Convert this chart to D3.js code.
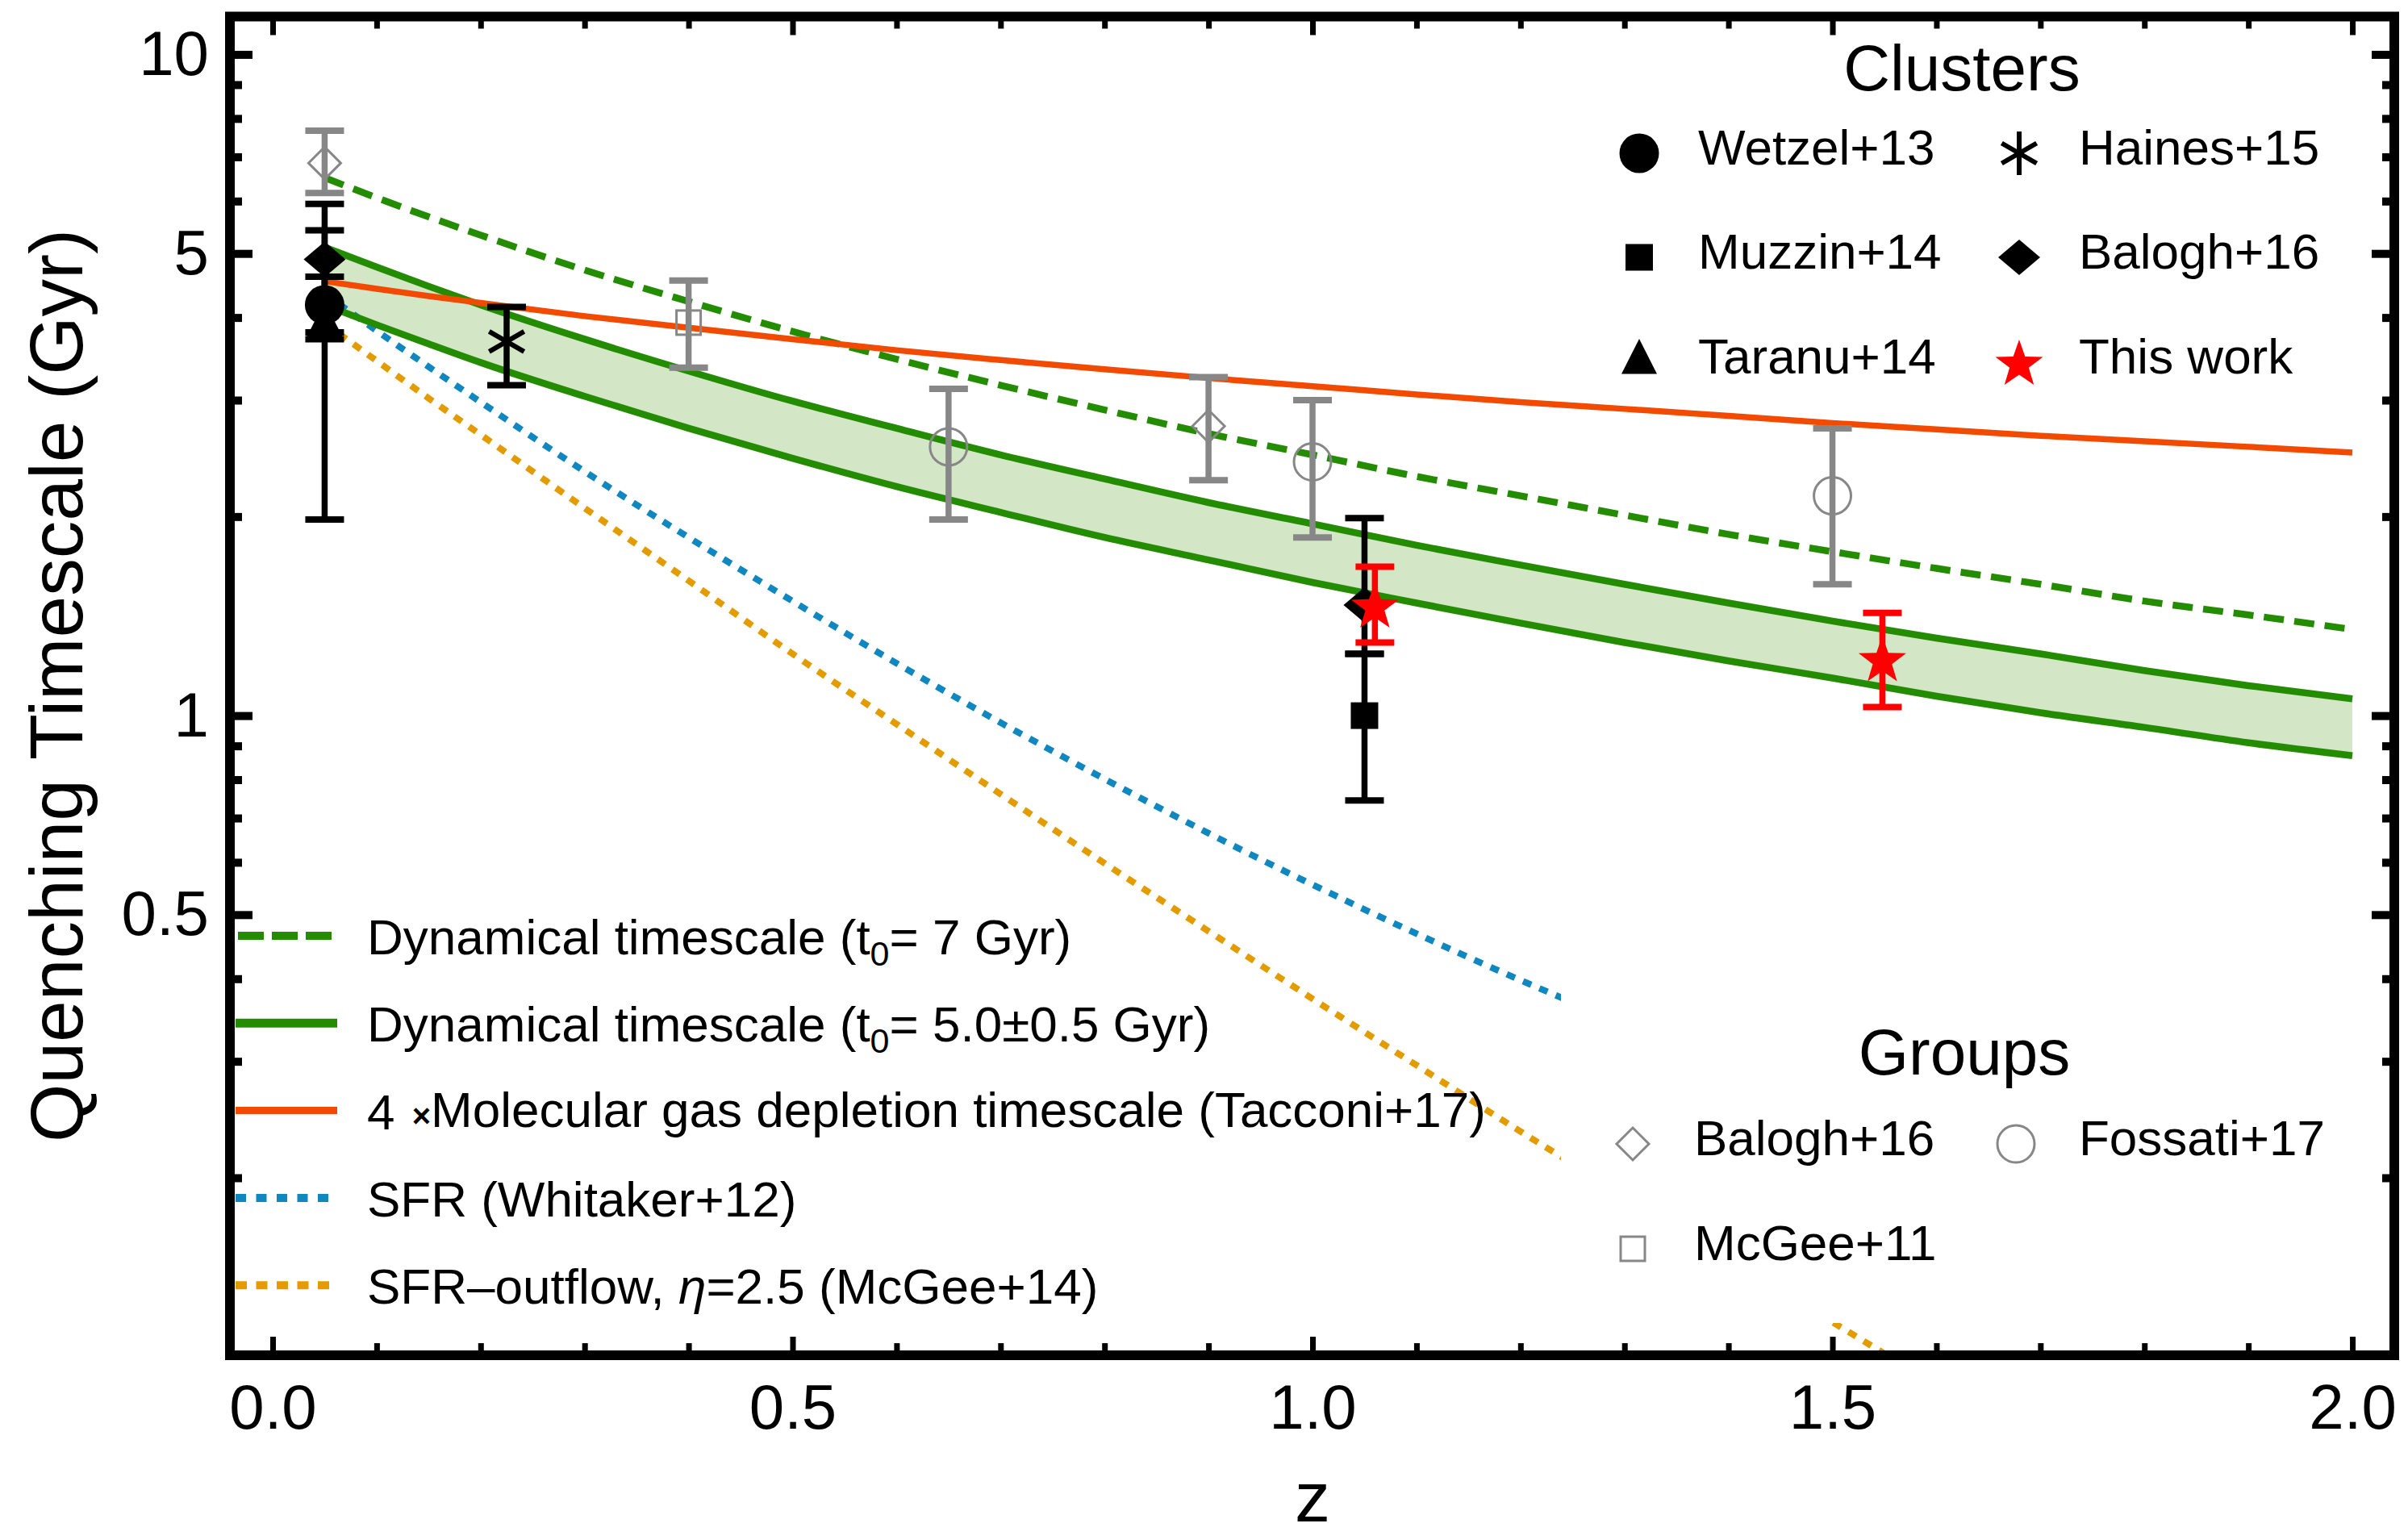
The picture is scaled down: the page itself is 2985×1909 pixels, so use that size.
<!DOCTYPE html>
<html>
<head>
<meta charset="utf-8">
<script src="https://cdn.jsdelivr.net/npm/d3@7"></script>
<style>
  html, body { margin: 0; padding: 0; background: #fff; }
  svg { display: block; font-family: "Liberation Sans", Arial, sans-serif; }
</style>
</head>
<body>
<svg id="chart" width="2985" height="1909"></svg>
<script>
// model curves, values
const zGrid = [0.05, 0.1, 0.15, 0.2, 0.3, 0.4, 0.5, 0.6, 0.7, 0.8, 0.9, 1.0, 1.1, 1.2, 1.3, 1.4, 1.5, 1.6, 1.7, 1.8, 1.9, 2.0];
const dyn7 = [6.51, 6.07, 5.68, 5.33, 4.72, 4.23, 3.81, 3.46, 3.16, 2.90, 2.67, 2.48, 2.30, 2.15, 2.01, 1.88, 1.77, 1.67, 1.58, 1.49, 1.42, 1.35];
const dynHigh = [5.11, 4.77, 4.46, 4.18, 3.71, 3.32, 2.99, 2.72, 2.48, 2.28, 2.10, 1.95, 1.81, 1.69, 1.58, 1.48, 1.39, 1.31, 1.24, 1.17, 1.11, 1.06];
const dynLow = [4.18, 3.90, 3.65, 3.42, 3.04, 2.72, 2.45, 2.22, 2.03, 1.86, 1.72, 1.59, 1.48, 1.38, 1.29, 1.21, 1.14, 1.07, 1.01, 0.96, 0.91, 0.87];
const tacconi = [4.54, 4.42, 4.31, 4.21, 4.02, 3.86, 3.71, 3.57, 3.45, 3.34, 3.24, 3.15, 3.06, 2.98, 2.91, 2.84, 2.77, 2.71, 2.65, 2.60, 2.55, 2.50];

const zSfr = [0.05, 0.1, 0.15, 0.2, 0.3, 0.4, 0.5, 0.6, 0.7, 0.8, 0.9, 1.0, 1.1, 1.2, 1.3, 1.4];
const sfrWhitaker = [4.35, 3.82, 3.37, 2.98, 2.34, 1.86, 1.49, 1.20, 0.976, 0.802, 0.664, 0.555, 0.468, 0.398, 0.342, 0.296];

const zOutflow = [0.05, 0.1, 0.15, 0.2, 0.3, 0.4, 0.5, 0.6, 0.7, 0.8, 0.9, 1.0, 1.1, 1.2, 1.3, 1.4, 1.5, 1.6];
const sfrOutflow = [3.92, 3.44, 3.02, 2.66, 2.06, 1.60, 1.24, 0.971, 0.761, 0.598, 0.472, 0.373, 0.296, 0.235, 0.188, 0.150, 0.121, 0.097];

// measurements: z, timescale, lower and upper end of the error bar (Gyr)
const clusterPts = [
    {ref: 'Taranu+14', z: 0.05, t: 3.90, lo: 3.71, hi: 5.42},
    {ref: 'Balogh+16', z: 0.05, t: 4.90, lo: 3.80, hi: 5.94},
    {ref: 'Wetzel+13', z: 0.05, t: 4.18, lo: 1.98, hi: 4.61},
    {ref: 'Haines+15', z: 0.225, t: 3.68, lo: 3.16, hi: 4.15},
    {ref: 'Muzzin+14', z: 1.05, t: 1.00, lo: 0.744, hi: 1.24},
    {ref: 'Balogh+16', z: 1.05, t: 1.47, lo: 1.24, hi: 1.99},
    {ref: 'This work', z: 1.06, t: 1.47, lo: 1.29, hi: 1.68},
    {ref: 'This work', z: 1.548, t: 1.22, lo: 1.03, hi: 1.43}
];
const groupPts = [
    {ref: 'Balogh+16', z: 0.05, t: 6.85, lo: 6.17, hi: 7.67},
    {ref: 'McGee+11', z: 0.40, t: 3.93, lo: 3.36, hi: 4.55},
    {ref: 'Fossati+17', z: 0.65, t: 2.55, lo: 1.98, hi: 3.12},
    {ref: 'Balogh+16', z: 0.90, t: 2.74, lo: 2.27, hi: 3.25},
    {ref: 'Fossati+17', z: 1.00, t: 2.42, lo: 1.86, hi: 3.00},
    {ref: 'Fossati+17', z: 1.50, t: 2.15, lo: 1.58, hi: 2.72}
];

const clusterNames = ['Wetzel+13', 'Haines+15', 'Muzzin+14', 'Balogh+16', 'Taranu+14', 'This work'];
const groupNames = ['Balogh+16', 'Fossati+17', 'McGee+11'];
const lineLabels = [
    [{t: 'Dynamical timescale (t'}, {t: '0', sub: true}, {t: '= 7 Gyr)'}],
    [{t: 'Dynamical timescale (t'}, {t: '0', sub: true}, {t: '= 5.0\u00b10.5 Gyr)'}],
    [{t: '4 '}, {t: '\u00d7', small: true}, {t: 'Molecular gas depletion timescale (Tacconi+17)'}],
    [{t: 'SFR (Whitaker+12)'}],
    [{t: 'SFR\u2013outflow, '}, {t: '\u03b7', it: true}, {t: '=2.5 (McGee+14)'}]
];

const xTicks = [0, 0.5, 1, 1.5, 2];
const yTicks = [0.5, 1, 5, 10];

const colors = {
    green: '#248c00', band: '#d3e6c5', red: '#f24a00', blue: '#1187c0',
    orange: '#e39c00', gray: '#878787', star: '#ff0000'
};

const svg = d3.select('#chart');
const plot = {left: 285, right: 2968, top: 20.5, bottom: 1680};

const x = d3.scaleLinear().domain([-0.0411, 2.0403]).range([plot.left, plot.right]);
const y = d3.scaleLog().domain([0.1078, 11.41]).range([plot.bottom, plot.top]);

svg.append('defs').append('clipPath').attr('id', 'clip')
    .append('rect')
    .attr('x', plot.left).attr('y', plot.top)
    .attr('width', plot.right - plot.left).attr('height', plot.bottom - plot.top);

const curves = svg.append('g').attr('clip-path', 'url(#clip)');

function linePath(zs, vals) {
    return d3.line()
        .x((d, i) => x(zs[i]))
        .y(d => y(d))
        .curve(d3.curveMonotoneX)(vals);
}

// shaded band between the two t0 curves
curves.append('path')
    .attr('d', d3.area()
        .x((d, i) => x(zGrid[i]))
        .y0((d, i) => y(dynLow[i]))
        .y1(d => y(d))
        .curve(d3.curveMonotoneX)(dynHigh))
    .attr('fill', colors.band);

const curveStyles = [
    {zs: zSfr, vals: sfrWhitaker, color: colors.blue, w: 8, dash: '11,11'},
    {zs: zOutflow, vals: sfrOutflow, color: colors.orange, w: 8, dash: '11,11'},
    {zs: zGrid, vals: dynHigh, color: colors.green, w: 8.5, dash: null},
    {zs: zGrid, vals: dynLow, color: colors.green, w: 8.5, dash: null},
    {zs: zGrid, vals: dyn7, color: colors.green, w: 8.5, dash: '25,13'},
    {zs: zGrid, vals: tacconi, color: colors.red, w: 7.5, dash: null}
];
curveStyles.forEach(c => {
    curves.append('path')
        .attr('d', linePath(c.zs, c.vals))
        .attr('fill', 'none')
        .attr('stroke', c.color)
        .attr('stroke-width', c.w)
        .attr('stroke-dasharray', c.dash);
});

// Groups legend sits on a white panel that hides the curves behind it
svg.append('rect')
    .attr('x', 1935).attr('y', 1200).attr('width', 1027).attr('height', 440)
    .attr('fill', '#fff');

function drawMarker(g, kind, cx, cy) {
    const m = g.append('g').attr('transform', `translate(${cx},${cy})`);
    if (kind === 'disk') {
        m.append('circle').attr('r', 24.5).attr('fill', '#000');
    } else if (kind === 'square') {
        m.append('rect').attr('x', -17).attr('y', -16.5).attr('width', 34).attr('height', 33).attr('fill', '#000');
    } else if (kind === 'triangle') {
        m.append('path').attr('d', 'M0,-29L22,14.5L-22,14.5Z').attr('fill', '#000');
    } else if (kind === 'diamond') {
        m.append('path').attr('d', 'M0,-22L26,0L0,22L-26,0Z').attr('fill', '#000');
    } else if (kind === 'asterisk') {
        [90, 30, 150].forEach((a, i) => {
            const r = i === 0 ? 27 : 25;
            const dx = r * Math.cos(a * Math.PI / 180), dy = r * Math.sin(a * Math.PI / 180);
            m.append('line')
                .attr('x1', -dx).attr('y1', -dy).attr('x2', dx).attr('y2', dy)
                .attr('stroke', '#000').attr('stroke-width', 6);
        });
    } else if (kind === 'star') {
        const pts = d3.range(10).map(k => {
            const r = k % 2 === 0 ? 31 : 12.5;
            const a = (-90 + k * 36) * Math.PI / 180;
            return [r * Math.cos(a), r * Math.sin(a) + 3];
        });
        m.append('path').attr('d', 'M' + pts.join('L') + 'Z').attr('fill', colors.star);
    } else if (kind === 'odiamond') {
        m.append('path').attr('d', 'M0,-20L20,0L0,20L-20,0Z')
            .attr('fill', 'none').attr('stroke', colors.gray).attr('stroke-width', 3);
    } else if (kind === 'ocircle') {
        m.append('circle').attr('r', 23)
            .attr('fill', 'none').attr('stroke', colors.gray).attr('stroke-width', 3);
    } else if (kind === 'osquare') {
        m.append('rect').attr('x', -15).attr('y', -15).attr('width', 30).attr('height', 30)
            .attr('fill', 'none').attr('stroke', colors.gray).attr('stroke-width', 3);
    }
}

const clusterSymbol = {
    'Wetzel+13': 'disk', 'Haines+15': 'asterisk', 'Muzzin+14': 'square',
    'Balogh+16': 'diamond', 'Taranu+14': 'triangle', 'This work': 'star'
};
const groupSymbol = {'Balogh+16': 'odiamond', 'Fossati+17': 'ocircle', 'McGee+11': 'osquare'};

function drawErrorBars(g, pts, colorOf) {
    pts.forEach(p => {
        const cx = x(p.z);
        const col = colorOf(p);
        g.append('line')
            .attr('x1', cx).attr('x2', cx).attr('y1', y(p.lo)).attr('y2', y(p.hi))
            .attr('stroke', col).attr('stroke-width', 7.5);
        [p.lo, p.hi].forEach(v => {
            g.append('line')
                .attr('x1', cx - 24).attr('x2', cx + 24).attr('y1', y(v)).attr('y2', y(v))
                .attr('stroke', col).attr('stroke-width', 8);
        });
    });
}

const points = svg.append('g');
drawErrorBars(points, groupPts, () => colors.gray);
groupPts.forEach(p => drawMarker(points, groupSymbol[p.ref], x(p.z), y(p.t)));
drawErrorBars(points, clusterPts.filter(p => p.ref !== 'This work'), () => '#000');
clusterPts.filter(p => p.ref !== 'This work')
    .forEach(p => drawMarker(points, clusterSymbol[p.ref], x(p.z), y(p.t)));
drawErrorBars(points, clusterPts.filter(p => p.ref === 'This work'), () => colors.star);
clusterPts.filter(p => p.ref === 'This work')
    .forEach(p => drawMarker(points, 'star', x(p.z), y(p.t)));

// frame
svg.append('rect')
    .attr('x', plot.left).attr('y', plot.top)
    .attr('width', plot.right - plot.left).attr('height', plot.bottom - plot.top)
    .attr('fill', 'none').attr('stroke', '#000').attr('stroke-width', 12);

// ticks on all four sides, pointing inward
const xMinor = d3.range(0, 21).filter(i => i % 5 !== 0).map(i => i / 10);
const yMinor = [0.2, 0.3, 0.4, 0.6, 0.7, 0.8, 0.9, 2, 3, 4, 6, 7, 8, 9];

function tickSet(axisFn, scale, values, size, pos, width, labelled) {
    const ax = axisFn(scale).tickValues(values).tickSizeInner(size).tickSizeOuter(0);
    if (labelled) {
        ax.tickFormat(labelled.format).tickPadding(labelled.pad);
    } else {
        ax.tickFormat('');
    }
    const g = svg.append('g').attr('transform', pos).call(ax);
    g.select('.domain').remove();
    g.selectAll('.tick line').attr('stroke', '#000').attr('stroke-width', width);
    g.attr('font-family', null).attr('font-size', null);
    g.selectAll('.tick text').attr('fill', '#000').style('font-size', '78px');
    return g;
}

const bottomPos = `translate(0,${plot.bottom})`;
const topPos = `translate(0,${plot.top})`;
const leftPos = `translate(${plot.left},0)`;
const rightPos = `translate(${plot.right},0)`;

tickSet(d3.axisBottom, x, xMinor, -15, bottomPos, 7);
tickSet(d3.axisBottom, x, xTicks, -23, bottomPos, 7, {format: d3.format('.1f'), pad: 36});
tickSet(d3.axisTop, x, xMinor, -15, topPos, 7);
tickSet(d3.axisTop, x, xTicks, -23, topPos, 7);
tickSet(d3.axisLeft, y, yMinor, -15, leftPos, 10);
tickSet(d3.axisLeft, y, yTicks, -28, leftPos, 10, {format: d => String(d), pad: 26});
tickSet(d3.axisRight, y, yMinor, -15, rightPos, 10);
tickSet(d3.axisRight, y, yTicks, -28, rightPos, 10);

// axis titles
svg.append('text')
    .attr('transform', `translate(102,850) rotate(-90)`)
    .attr('text-anchor', 'middle')
    .style('font-size', '93px')
    .text('Quenching Timescale (Gyr)');
svg.append('text')
    .attr('x', x(1)).attr('y', 1886)
    .attr('text-anchor', 'middle')
    .style('font-size', '88px')
    .text('z');

// legend for the model curves
const lineSamples = [
    {color: colors.green, w: 10, dash: '32,10', x1: 295, x2: 411},
    {color: colors.green, w: 11, dash: null, x1: 292, x2: 418},
    {color: colors.red, w: 9, dash: null, x1: 292, x2: 418},
    {color: colors.blue, w: 10, dash: '13,12.5', x1: 292, x2: 410},
    {color: colors.orange, w: 10, dash: '14,11.5', x1: 292, x2: 410}
];
const lineLegend = svg.append('g');
lineLabels.forEach((parts, i) => {
    const yy = 1160 + i * 108.3;
    const s = lineSamples[i];
    lineLegend.append('line')
        .attr('x1', s.x1).attr('x2', s.x2).attr('y1', yy).attr('y2', yy)
        .attr('stroke', s.color).attr('stroke-width', s.w)
        .attr('stroke-dasharray', s.dash);
    const txt = lineLegend.append('text')
        .attr('x', 455).attr('y', yy + 23)
        .style('font-size', '62px');
    let shifted = false;
    parts.forEach(p => {
        const ts = txt.append('tspan').text(p.t);
        if (p.sub) {
            ts.style('font-size', '43px').attr('dy', 14);
            shifted = true;
        } else if (shifted) {
            ts.attr('dy', -14);
            shifted = false;
        }
        if (p.small) ts.style('font-size', '40px').style('font-weight', 'bold').attr('dx', 4).attr('dy', -3);
        if (p.it) ts.style('font-style', 'italic');
    });
});

// Clusters legend
const clusters = svg.append('g');
clusters.append('text')
    .attr('x', 2432).attr('y', 112)
    .attr('text-anchor', 'middle')
    .style('font-size', '80px')
    .text('Clusters');
clusterNames.forEach((name, i) => {
    const col = i % 2, row = Math.floor(i / 2);
    const base = [204, 333, 463][row];
    drawMarker(clusters, clusterSymbol[name], [2032, 2503][col], base - 14);
    clusters.append('text')
        .attr('x', [2105, 2577][col]).attr('y', base)
        .style('font-size', '62px')
        .text(name);
});

// Groups legend
const groups = svg.append('g');
groups.append('text')
    .attr('x', 2435).attr('y', 1332)
    .attr('text-anchor', 'middle')
    .style('font-size', '80px')
    .text('Groups');
groupNames.forEach((name, i) => {
    const col = i % 2, row = Math.floor(i / 2);
    const base = [1432, 1562][row];
    drawMarker(groups, groupSymbol[name], [2024, 2499][col], base - 14);
    groups.append('text')
        .attr('x', [2100, 2577][col]).attr('y', base)
        .style('font-size', '62px')
        .text(name);
});
</script>
</body>
</html>
